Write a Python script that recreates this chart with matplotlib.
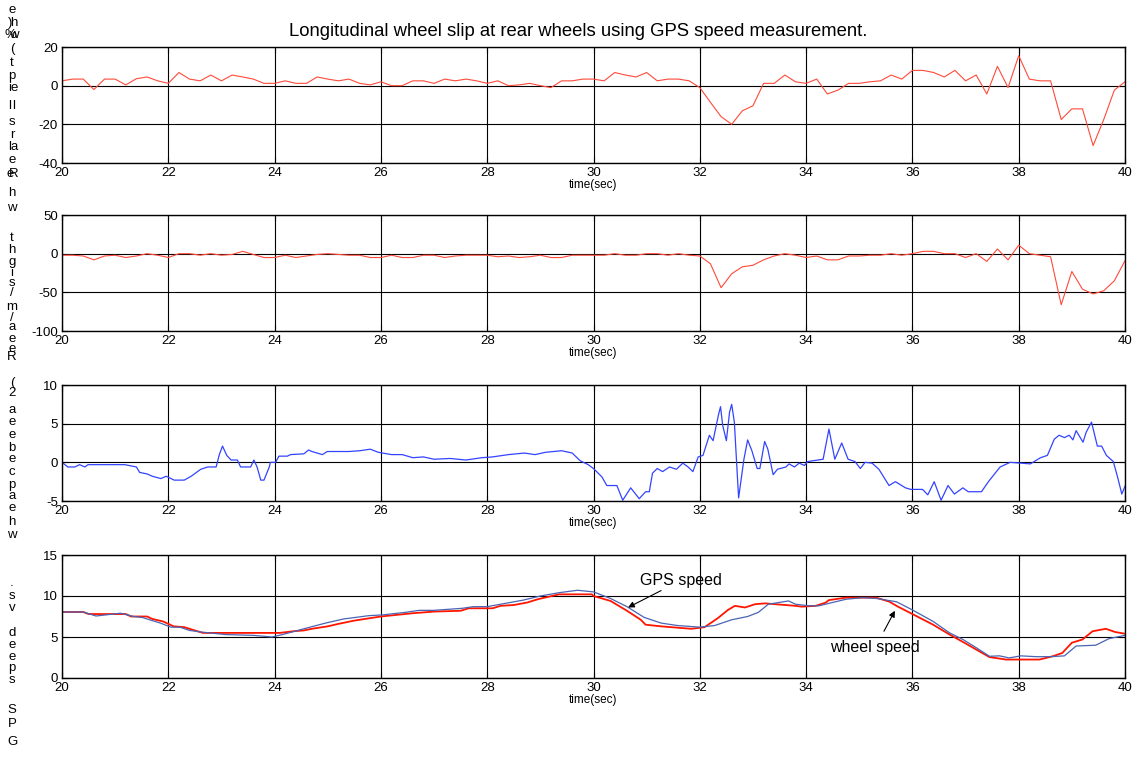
import numpy as np
import matplotlib
matplotlib.use("Agg")
import matplotlib.pyplot as plt

plt.rcParams['font.family'] = ['Liberation Sans', 'DejaVu Sans']
plt.rcParams['axes.unicode_minus'] = False

# ---- data ----
# slip values sampled at GPS rate (5 Hz), 20..40 s
t_slip = np.arange(20.0, 40.001, 0.2)
slip_top = [2.5, 3.4, 3.4, -2, 3.4, 3.4, 0.4, 3.6, 4.5, 2.5,
            1.2, 6.8, 3.4, 2.5, 5.5, 2.5, 5.5, 4.5, 3.4, 1.2,
            1.2, 2.5, 1.2, 1.2, 4.5, 3.4, 2.5, 3.4, 1.2, 0.4,
            2, 0, 0, 2.5, 2.5, 1.2, 3.4, 2.5, 3.4, 2.5,
            1.2, 2.5, 0, 0.4, 1.2, 0, -1, 2.5, 2.5, 3.4,
            3.4, 2.5, 6.8, 5.5, 4.5, 6.8, 2.5, 3.4, 3.4, 2.5,
            -1, -8.6, -16, -20, -13, -10.4, 1.2, 1.2, 5.5, 2,
            1.2, 3.4, -4.3, -2.3, 1.2, 1.2, 2, 2.5, 5.5, 3.4,
            7.9, 7.9, 6.8, 4.5, 7.9, 2.5, 5.5, -4.3, 10, -1,
            15.5, 3.4, 2.5, 2.5, -17.5, -12, -12, -31, -17.5, -2.3,
            2]
slip_mid = [-2, -2, -3, -8, -3, -2, -5, -3, 0, -2,
            -5, 0, 0, -2, 0, -2, -1, 3, -1, -5,
            -5, -2, -5, -3, -1, 0, -1, -2, -2, -5,
            -5, -2, -5, -5, -2, -2, -5, -3, -2, -2,
            -2, -4, -3, -5, -4, -2, -5, -5, -2, -2,
            -2, -2, 0, -2, -2, 0, 0, -2, 0, -2,
            -3, -13, -44, -26, -17, -15, -8, -3, 0, -2,
            -5, -3, -8, -8, -3, -3, -2, -2, 0, -2,
            0, 3, 3, 0, 0, -5, 0, -10, 6, -8,
            11, 0, -2, -4, -66, -23, -46, -52, -48, -35,
            -9]

t_acc = [20.0, 20.11, 20.24, 20.33, 20.43, 20.49, 21.18, 21.4, 21.46, 21.6,
         21.7, 21.86, 21.96, 22.11, 22.3, 22.43, 22.61, 22.74, 22.9, 22.96,
         23.02, 23.1, 23.18, 23.3, 23.36, 23.55, 23.61, 23.67, 23.74, 23.8,
         23.9, 23.92, 24.02, 24.08, 24.24, 24.3, 24.55, 24.64, 24.7, 24.9,
         24.99, 25.17, 25.4, 25.6, 25.8, 25.95, 26.2, 26.4, 26.6, 26.8,
         27.0, 27.3, 27.6, 27.9, 28.1, 28.4, 28.7, 28.9, 29.1, 29.4,
         29.6, 29.75, 29.9, 30.0, 30.16, 30.25, 30.44, 30.55, 30.7, 30.86,
         30.98, 31.05, 31.11, 31.2, 31.3, 31.43, 31.56, 31.68, 31.78, 31.87,
         31.97, 32.06, 32.18, 32.25, 32.35, 32.39, 32.43, 32.5, 32.56, 32.6,
         32.65, 32.73, 32.83, 32.9, 32.98, 33.08, 33.13, 33.22, 33.28, 33.38,
         33.46, 33.62, 33.68, 33.78, 33.87, 33.97, 34.03, 34.32, 34.43, 34.54,
         34.67, 34.79, 34.92, 35.02, 35.11, 35.24, 35.37, 35.56, 35.68, 35.87,
         35.97, 36.19, 36.29, 36.41, 36.54, 36.67, 36.79, 36.95, 37.05, 37.3,
         37.43, 37.65, 37.84, 38.22, 38.41, 38.54, 38.67, 38.76, 38.86, 38.95,
         39.02, 39.08, 39.21, 39.27, 39.37, 39.48, 39.56, 39.65, 39.78, 39.86,
         39.94, 40.0]
acc = [0, -0.6, -0.6, -0.3, -0.6, -0.3, -0.3, -0.6, -1.3, -1.5,
       -1.8, -2.1, -1.8, -2.3, -2.3, -1.8, -0.9, -0.6, -0.6, 1.0,
       2.1, 0.9, 0.3, 0.3, -0.6, -0.6, 0.3, -0.6, -2.3, -2.3,
       -0.6, 0, 0, 0.8, 0.8, 1.0, 1.1, 1.6, 1.4, 1.0,
       1.4, 1.4, 1.4, 1.5, 1.7, 1.3, 1.0, 1.0, 0.6, 0.7,
       0.4, 0.5, 0.3, 0.6, 0.7, 1.0, 1.2, 1.0, 1.3, 1.5,
       1.2, 0.2, -0.3, -0.8, -1.9, -3.0, -3.0, -4.9, -3.3, -4.7,
       -3.8, -3.8, -1.4, -0.8, -1.2, -0.6, -0.9, -0.1, -0.6, -1.2,
       0.7, 0.9, 3.5, 2.8, 6.1, 7.2, 4.8, 2.8, 6.5, 7.5,
       5.2, -4.6, 0.4, 2.9, 1.5, -0.8, -0.8, 2.7, 1.7, -1.6,
       -0.9, -0.6, -0.2, -0.6, -0.1, -0.4, 0.1, 0.4, 4.3, 0.4,
       2.5, 0.4, 0.1, -0.8, 0, -0.1, -0.9, -3.0, -2.5, -3.3,
       -3.5, -3.5, -4.2, -2.5, -4.9, -3.0, -4.1, -3.3, -3.8, -3.8,
       -2.5, -0.6, 0, -0.2, 0.6, 0.9, 3.0, 3.5, 3.2, 3.5,
       2.9, 4.1, 2.6, 3.9, 5.2, 2.1, 2.1, 0.9, 0.1, -1.9,
       -4.1, -3.1]

t_gps = [20.0, 20.4, 20.64, 21.1, 21.35, 21.5, 21.85, 22.05, 22.22, 22.4,
         22.63, 23.07, 23.6, 23.95, 24.15, 24.55, 24.96, 25.3, 25.77, 26.04,
         26.45, 26.72, 26.99, 27.53, 27.74, 28.0, 28.34, 28.68, 29.0, 29.35,
         29.7, 30.0, 30.32, 30.63, 30.95, 31.27, 31.58, 32.0, 32.28, 32.6,
         32.9, 33.1, 33.29, 33.48, 33.67, 33.8, 34.05, 34.24, 34.49, 34.75,
         35.06, 35.32, 35.7, 36.0, 36.39, 36.7, 36.95, 37.2, 37.45, 37.64,
         37.82, 38.04, 38.33, 38.6, 38.86, 39.08, 39.45, 39.7, 40.0]
v_gps = [8.05, 8.05, 7.56, 7.9, 7.5, 7.4, 6.7, 6.2, 6.2, 5.8,
         5.6, 5.3, 5.2, 5.0, 5.3, 6.0, 6.7, 7.2, 7.6, 7.7,
         8.0, 8.25, 8.25, 8.5, 8.7, 8.7, 9.1, 9.5, 10.0, 10.4,
         10.7, 10.5, 9.7, 8.7, 7.4, 6.7, 6.4, 6.2, 6.4, 7.1,
         7.5, 8.0, 9.0, 9.2, 9.4, 9.0, 8.8, 8.8, 9.2, 9.6,
         9.8, 9.7, 9.3, 8.3, 6.9, 5.5, 4.7, 3.7, 2.65, 2.7,
         2.45, 2.7, 2.6, 2.6, 2.7, 3.9, 4.0, 4.8, 5.2]

t_wheel = [20.0, 20.4, 20.5, 21.2, 21.3, 21.6, 21.7, 21.9, 22.0, 22.1,
           22.3, 22.5, 22.65, 24.1, 24.35, 24.55, 24.7, 25.0, 25.2, 25.5,
           25.8, 26.0, 26.3, 26.6, 27.0, 27.5, 27.65, 28.1, 28.25, 28.5,
           28.75, 28.95, 29.15, 29.35, 29.97, 30.0, 30.32, 30.63, 30.89, 30.98,
           31.27, 31.65, 31.84, 32.09, 32.34, 32.53, 32.66, 32.85, 33.04, 33.23,
           33.8, 33.92, 34.18, 34.37, 34.43, 34.75, 35.32, 35.57, 35.7, 36.0,
           36.39, 36.7, 36.95, 37.45, 37.76, 38.39, 38.64, 38.82, 39.0, 39.2,
           39.39, 39.64, 39.82, 40.0]
v_wheel = [8.05, 8.05, 7.8, 7.8, 7.5, 7.5, 7.2, 6.9, 6.6, 6.3,
           6.2, 5.8, 5.5, 5.5, 5.7, 5.8, 6.0, 6.3, 6.6, 7.0,
           7.3, 7.5, 7.7, 7.9, 8.1, 8.2, 8.5, 8.5, 8.8, 8.9,
           9.2, 9.6, 9.9, 10.2, 10.2, 10.0, 9.4, 8.2, 7.1, 6.5,
           6.3, 6.1, 6.0, 6.2, 7.3, 8.3, 8.8, 8.6, 9.0, 9.1,
           8.8, 8.7, 8.8, 9.2, 9.5, 9.8, 9.8, 9.3, 8.8, 7.8,
           6.5, 5.3, 4.4, 2.55, 2.25, 2.25, 2.65, 3.05, 4.3, 4.7,
           5.7, 6.0, 5.6, 5.4]

# garbled stacked y-label characters down the left edge (y in pixels)
label_y = [10, 23, 35, 49, 63, 76, 88, 106, 122, 135, 147, 160, 174, 193,
           208, 238, 250, 262, 273, 283, 293, 307, 318, 327, 339, 349, 357,
           383, 393, 410, 422, 435, 448, 459, 472, 485, 496, 508, 522, 535,
           583, 596, 608, 633, 645, 657, 668, 680, 710, 724, 742]
label_ch = ['e', ')h', '%w', '(', 't', 'p', 'ie', 'll', 's', 'r', 'la', 'e',
            'eR', 'h', 'w', 't', 'h', 'g', 'i', 's', '/', 'm', '/', 'a', 'e',
            'e', 'R', '(', '2', 'a', 'e', 'e', 'b', 'e', 'c', 'p', 'a', 'e',
            'h', 'w', '.', 's', 'v', 'd', 'e', 'e', 'p', 's', 'S', 'P', 'G']

W, H = 1137, 757
fig = plt.figure(figsize=(W / 100, H / 100), dpi=100)


def make_axes(top_px, bottom_px, ylim, yticks):
    ax = fig.add_axes([62 / W, 1 - bottom_px / H, (1125 - 62) / W,
                       (bottom_px - top_px) / H])
    ax.set_xlim(20, 40)
    ax.set_ylim(*ylim)
    ax.set_xticks(np.arange(20, 41, 2))
    ax.set_yticks(yticks)
    ax.grid(True, color='black', linestyle='-', linewidth=0.8)
    ax.set_axisbelow(True)
    ax.tick_params(direction='in', length=4, width=0.8, top=True,
                   right=True, labelsize=9.5, pad=3)
    for s in ax.spines.values():
        s.set_linewidth(1.0)
    ax.set_xlabel('time(sec)', fontsize=8.5, labelpad=0)
    return ax


ax1 = make_axes(47, 163, (-40, 20), [-40, -20, 0, 20])
ax1.plot(t_slip, slip_top, color='#ff4a3a', lw=0.8)
ax1.set_title('Longitudinal wheel slip at rear wheels using GPS speed measurement.',
              fontsize=13.3, pad=8, x=0.486)

ax2 = make_axes(215, 331, (-100, 50), [-100, -50, 0, 50])
ax2.plot(t_slip, slip_mid, color='#ff4a3a', lw=0.8)

ax3 = make_axes(385, 501, (-5, 10), [-5, 0, 5, 10])
ax3.plot(t_acc, acc, color='#3344ff', lw=0.9)

ax4 = make_axes(555, 678, (0, 15), [0, 5, 10, 15])
ax4.plot(t_wheel, v_wheel, color='#ff1500', lw=1.3)
ax4.plot(t_gps, v_gps, color='#4a64b4', lw=0.9)
ax4.annotate('GPS speed', xy=(30.65, 8.6), xytext=(30.88, 11.0),
             fontsize=11.5, ha='left', va='bottom',
             arrowprops=dict(arrowstyle='-|>', color='black', lw=0.8,
                             mutation_scale=9, shrinkA=0, shrinkB=0))
ax4.annotate('wheel speed', xy=(35.67, 8.2), xytext=(35.3, 3.7),
             fontsize=11.5, ha='center', va='center',
             arrowprops=dict(arrowstyle='-|>', color='black', lw=0.8,
                             mutation_scale=9, shrinkA=5, shrinkB=0))

for y, ch in zip(label_y, label_ch):
    if len(ch) == 2:
        fig.text(10 / W, 1 - y / H, ch[0], fontsize=9.5, ha='center', va='center')
        fig.text(14 / W, 1 - y / H, ch[1], fontsize=9.5, ha='center', va='center')
    else:
        fig.text(12 / W, 1 - y / H, ch, fontsize=9.5, ha='center', va='center')

fig.savefig('out.png', dpi=100)
